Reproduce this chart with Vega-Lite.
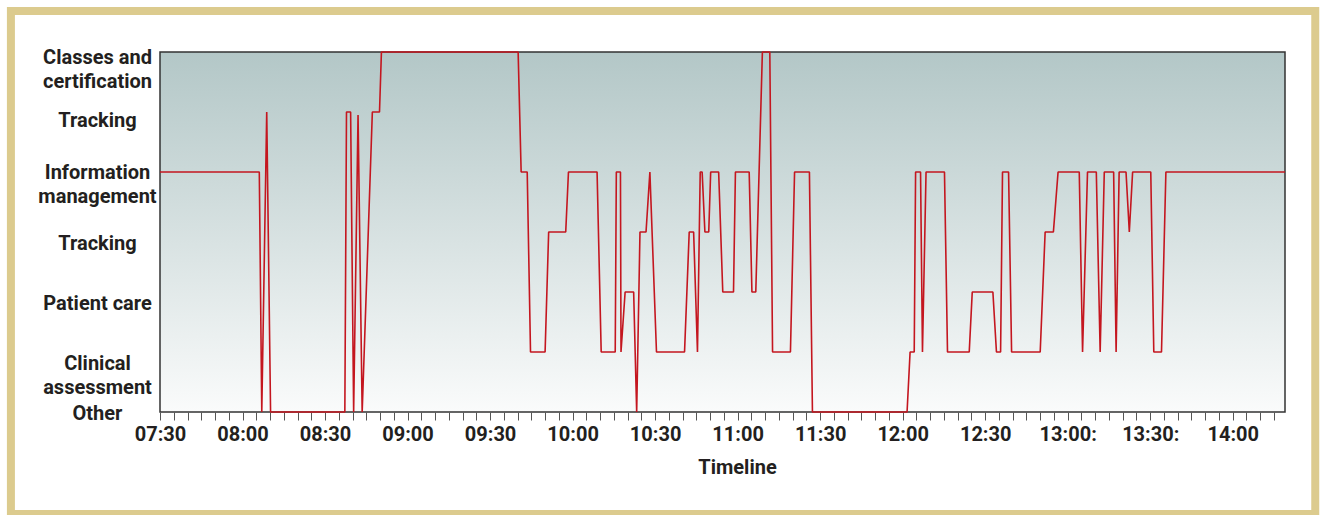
{
  "$schema": "https://vega.github.io/schema/vega-lite/v6.json",
  "width": 1125,
  "height": 360,
  "padding": {"left": 160, "top": 52, "right": 38, "bottom": 103},
  "autosize": {"type": "none"},
  "background": "#ffffff",
  "config": {
    "view": {
      "stroke": "#333333",
      "strokeWidth": 1.5,
      "fill": {"gradient": "linear", "x1": 0, "y1": 0, "x2": 0, "y2": 1, "stops": [{"offset": 0, "color": "#b3c7c7"}, {"offset": 1, "color": "#fafbfb"}]}
    },
    "font": "Roboto, sans-serif"
  },
  "resolve": {"axis": {"x": "independent", "y": "independent"}},
  "datasets": {
    "activity": [
      {"minute": 0, "level": 4}, {"minute": 36.1, "level": 4}, {"minute": 37, "level": 0},
      {"minute": 38.8, "level": 5}, {"minute": 40.2, "level": 0}, {"minute": 67.2, "level": 0},
      {"minute": 67.8, "level": 5}, {"minute": 69.3, "level": 5}, {"minute": 70.4, "level": 0},
      {"minute": 72, "level": 4.95}, {"minute": 73.5, "level": 0}, {"minute": 77.2, "level": 5},
      {"minute": 79.8, "level": 5}, {"minute": 80.5, "level": 6}, {"minute": 130.2, "level": 6},
      {"minute": 131.3, "level": 4}, {"minute": 133.5, "level": 4}, {"minute": 134.7, "level": 1},
      {"minute": 140, "level": 1}, {"minute": 141.3, "level": 3}, {"minute": 147.5, "level": 3},
      {"minute": 148.5, "level": 4}, {"minute": 158.9, "level": 4}, {"minute": 160.4, "level": 1},
      {"minute": 165.5, "level": 1}, {"minute": 165.9, "level": 4}, {"minute": 167.4, "level": 4},
      {"minute": 167.6, "level": 1}, {"minute": 169.1, "level": 2}, {"minute": 172.2, "level": 2},
      {"minute": 173.3, "level": 0}, {"minute": 174.5, "level": 3}, {"minute": 176.7, "level": 3},
      {"minute": 178.1, "level": 4}, {"minute": 180.5, "level": 1}, {"minute": 190.7, "level": 1},
      {"minute": 192.4, "level": 3}, {"minute": 194, "level": 3}, {"minute": 195.4, "level": 1},
      {"minute": 196.4, "level": 4}, {"minute": 197.1, "level": 4}, {"minute": 198.1, "level": 3},
      {"minute": 199.5, "level": 3}, {"minute": 200.2, "level": 4}, {"minute": 203.1, "level": 4},
      {"minute": 204.6, "level": 2}, {"minute": 208.5, "level": 2}, {"minute": 209.2, "level": 4},
      {"minute": 214.2, "level": 4}, {"minute": 215.2, "level": 2}, {"minute": 216.6, "level": 2},
      {"minute": 219, "level": 6}, {"minute": 221.7, "level": 6}, {"minute": 222.7, "level": 1},
      {"minute": 229.2, "level": 1}, {"minute": 230.7, "level": 4}, {"minute": 236.1, "level": 4},
      {"minute": 237.2, "level": 0}, {"minute": 271.6, "level": 0}, {"minute": 272.7, "level": 1},
      {"minute": 274.2, "level": 1}, {"minute": 274.7, "level": 4}, {"minute": 276.5, "level": 4},
      {"minute": 277.2, "level": 1}, {"minute": 278.5, "level": 4}, {"minute": 285.2, "level": 4},
      {"minute": 286.3, "level": 1}, {"minute": 294.2, "level": 1}, {"minute": 295.3, "level": 2},
      {"minute": 302.8, "level": 2}, {"minute": 304.1, "level": 1}, {"minute": 305.6, "level": 1},
      {"minute": 306.3, "level": 4}, {"minute": 308.5, "level": 4}, {"minute": 309.6, "level": 1},
      {"minute": 320, "level": 1}, {"minute": 321.8, "level": 3}, {"minute": 324.8, "level": 3},
      {"minute": 326.5, "level": 4}, {"minute": 334.2, "level": 4}, {"minute": 335.4, "level": 1},
      {"minute": 337.2, "level": 4}, {"minute": 340.4, "level": 4}, {"minute": 341.8, "level": 1},
      {"minute": 343.3, "level": 4}, {"minute": 346.7, "level": 4}, {"minute": 347.6, "level": 1},
      {"minute": 348.7, "level": 4}, {"minute": 351.2, "level": 4}, {"minute": 352.4, "level": 3},
      {"minute": 353.6, "level": 4}, {"minute": 360.2, "level": 4}, {"minute": 361.3, "level": 1},
      {"minute": 364.1, "level": 1}, {"minute": 365.7, "level": 4}, {"minute": 409, "level": 4}
    ],
    "frame": [{"x0": -54.2, "x1": 420, "y0": -1.7, "y1": 6.683}]
  },
  "layer": [
    {
      "data": {"name": "activity"},
      "mark": {"type": "line", "color": "#c4161f", "strokeWidth": 1.6, "strokeJoin": "bevel", "interpolate": "linear"},
      "encoding": {
        "x": {
          "field": "minute", "type": "quantitative",
          "scale": {"domain": [0, 409], "nice": false, "zero": false},
          "axis": {
            "title": "Timeline",
            "values": [0,5,10,15,20,25,30,35,40,45,50,55,60,65,70,75,80,85,90,95,100,105,110,115,120,125,130,135,140,145,150,155,160,165,170,175,180,185,190,195,200,205,210,215,220,225,230,235,240,245,250,255,260,265,270,275,280,285,290,295,300,305,310,315,320,325,330,335,340,345,350,355,360,365,370,375,380,385,390,395,400,405],
            "labelExpr": "datum.value % 30 != 0 ? '' : pad('' + floor((450 + datum.value) / 60), 2, '0', 'left') + ':' + pad('' + ((450 + datum.value) % 60), 2, '0', 'left') + (datum.value == 330 || datum.value == 360 ? ':' : '')",
            "labelOverlap": false,
            "labelFontSize": 20,
            "labelFontWeight": "bold",
            "labelColor": "#231f20",
            "labelPadding": 4,
            "labelFlush": false,
            "tickColor": "#555555",
            "tickSize": 8,
            "tickWidth": 1,
            "domain": false,
            "grid": false,
            "titleFontSize": 20,
            "titleFontWeight": "bold",
            "titleColor": "#231f20",
            "titlePadding": 13,
            "titleX": 577
          }
        },
        "y": {
          "field": "level", "type": "quantitative",
          "scale": {"domain": [0, 6], "nice": false, "zero": false},
          "axis": {
            "title": null,
            "values": [0, 1, 2, 3, 4, 5, 6],
            "labelExpr": "datum.value == 6 ? ['Classes and', 'certification'] : datum.value == 5 ? 'Tracking' : datum.value == 4 ? ['Information', 'management'] : datum.value == 3 ? 'Tracking' : datum.value == 2 ? 'Patient care' : datum.value == 1 ? ['Clinical', 'assessment'] : 'Other'",
            "labelAlign": "center",
            "labelBaseline": "middle",
            "labelPadding": 63,
            "labelOffset": {"expr": "datum.value == 1 ? 11 : datum.value == 6 ? 5 : datum.value == 4 ? 0 : datum.value == 0 ? 1 : datum.value == 5 ? 8 : 11"},
            "labelFontSize": 20,
            "labelFontWeight": "bold",
            "labelColor": "#231f20",
            "labelLineHeight": 24,
            "labelOverlap": false,
            "labelFlush": false,
            "ticks": false,
            "domain": false,
            "grid": false
          }
        }
      }
    },
    {
      "data": {"name": "frame"},
      "mark": {"type": "rect", "fill": null, "stroke": "#dccb8e", "strokeWidth": 8, "clip": false},
      "encoding": {
        "x": {"field": "x0", "type": "quantitative", "axis": null},
        "x2": {"field": "x1"},
        "y": {"field": "y0", "type": "quantitative", "axis": null},
        "y2": {"field": "y1"}
      }
    }
  ]
}
